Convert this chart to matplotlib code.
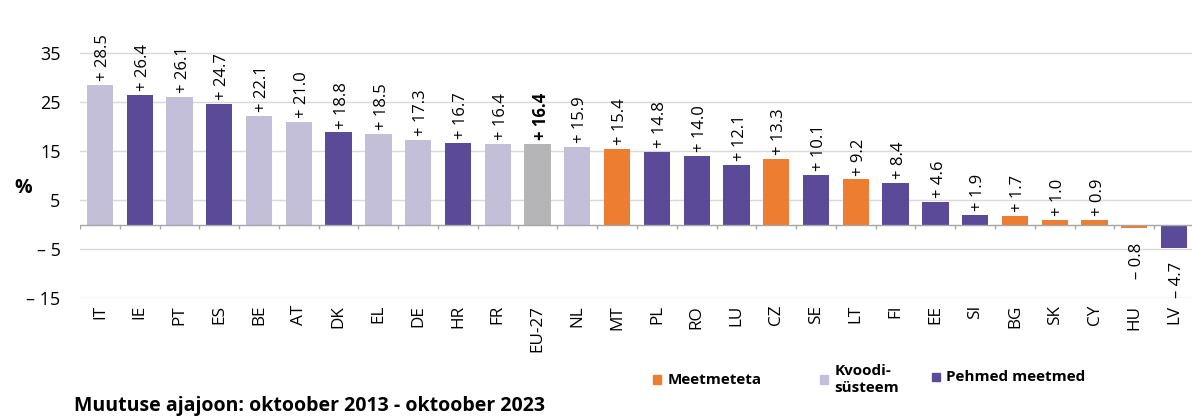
import matplotlib.pyplot as plt
import matplotlib.patches as mpatches
import numpy as np

# Data
countries = ['IT', 'IE', 'PT', 'ES', 'BE', 'AT', 'DK', 'EL', 'DE', 'HR', 'FR', 'EU-27',
             'NL', 'MT', 'PL', 'RO', 'LU', 'CZ', 'SE', 'LT', 'FI', 'EE', 'SI', 'BG',
             'SK', 'CY', 'HU', 'LV']
values = [28.5, 26.4, 26.1, 24.7, 22.1, 21.0, 18.8, 18.5, 17.3, 16.7, 16.4, 16.4,
          15.9, 15.4, 14.8, 14.0, 12.1, 13.3, 10.1, 9.2, 8.4, 4.6, 1.9, 1.7,
          1.0, 0.9, -0.8, -4.7]
# k = kvoodisüsteem, p = pehmed meetmed, m = meetmeteta, e = EU-27
groups = ['k', 'p', 'k', 'p', 'k', 'k', 'p', 'k', 'k', 'p', 'k', 'e',
          'k', 'm', 'p', 'p', 'p', 'm', 'p', 'm', 'p', 'p', 'p', 'm',
          'm', 'm', 'm', 'p']
yticks = [35, 25, 15, 5, -5, -15]

COLORS = {'k': '#c3bfd8', 'p': '#5b4a98', 'm': '#ec7d31', 'e': '#b5b5b7'}
FONT = 'Open Sans'

fig = plt.figure(figsize=(11.92, 4.19), dpi=100)
ax = fig.add_axes([0.0671, 0.2888, 0.9329, 0.643])

x = np.arange(len(countries))
ax.bar(x, values, width=0.66, color=[COLORS[g] for g in groups], zorder=2)

ax.set_xlim(-0.5, 27.45)
ax.set_ylim(-15, 40)

# grid lines and zero line with little separators
for yt in yticks:
    ax.axhline(yt, color='#d9d9d9', lw=1.0, zorder=1)
ax.axhline(0, color='#a6a6a6', lw=1.0, zorder=3)
ax.vlines(np.arange(len(countries) + 1) - 0.5, -0.9, 0, color='#a6a6a6', lw=1.0, zorder=3)

# value labels
for xi, v, g in zip(x, values, groups):
    sign = '+' if v >= 0 else '\u2013'
    txt = '{} {:.1f}'.format(sign, abs(v))
    weight = 'bold' if g == 'e' else 'normal'
    if v >= 0:
        ax.text(xi + 0.08, v + 0.8, txt, rotation=90, ha='center', va='bottom',
                fontsize=12, family=FONT, fontweight=weight, zorder=4)
    else:
        ax.text(xi + 0.08, v - 3.0, txt, rotation=90, ha='center', va='top',
                fontsize=12, family=FONT, fontweight=weight, zorder=4)

ax.set_yticks(yticks)
ax.set_yticklabels([str(t) if t > 0 else '\u2013 {}'.format(abs(t)) for t in yticks],
                   fontsize=13, family=FONT)
ax.set_xticks(x)
ax.set_xticklabels(countries, rotation=90, fontsize=12.3, family=FONT)
ax.tick_params(axis='both', length=0)
ax.tick_params(axis='y', pad=14)
ax.tick_params(axis='x', pad=5)
for s in ax.spines.values():
    s.set_visible(False)

fig.text(0.012, 0.54, '%', fontsize=14, fontweight='bold', family=FONT)

# legend drawn by hand
lx = [0.548, 0.688, 0.782]
ly = [0.088, 0.088, 0.094]
labels = ['Meetmeteta', 'Kvoodi-\nsüsteem', 'Pehmed meetmed']
keys = ['m', 'k', 'p']
for xx, yy, lab, k in zip(lx, ly, labels, keys):
    fig.patches.append(mpatches.Rectangle((xx, yy - 0.004), 0.0065, 0.02, transform=fig.transFigure,
                                          color=COLORS[k]))
    fig.text(xx + 0.012, yy + 0.006, lab, fontsize=11, fontweight='bold', family=FONT,
             va='center', linespacing=1.3)

fig.text(0.062, 0.032, 'Muutuse ajajoon: oktoober 2013 - oktoober 2023', fontsize=14,
         fontweight='bold', family=FONT, va='center')

plt.savefig('out.png', dpi=100)
